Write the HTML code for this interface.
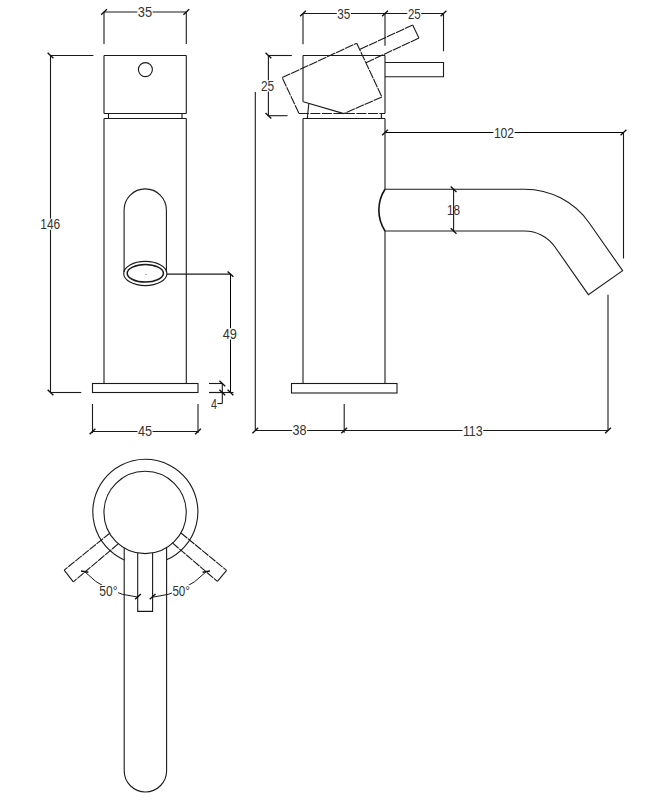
<!DOCTYPE html>
<html><head><meta charset="utf-8"><style>
html,body{margin:0;padding:0;background:#fff;}
svg{display:block;}
text{font-family:"Liberation Sans",sans-serif;font-size:14px;fill:#333;}
</style></head><body>
<svg width="655" height="800" viewBox="0 0 655 800">
<rect width="655" height="800" fill="#fff"/>
<line x1="104.00" y1="12.00" x2="104.00" y2="44.00" stroke="#1a1a1a" stroke-width="1.1"/>
<line x1="186.30" y1="12.00" x2="186.30" y2="44.00" stroke="#1a1a1a" stroke-width="1.1"/>
<line x1="104.00" y1="12.00" x2="186.30" y2="12.00" stroke="#1a1a1a" stroke-width="1.1"/>
<line x1="101.10" y1="14.70" x2="106.90" y2="9.30" stroke="#111" stroke-width="1.4"/>
<line x1="183.40" y1="14.70" x2="189.20" y2="9.30" stroke="#111" stroke-width="1.4"/>
<rect x="137.35" y="6.60" width="15.30" height="11.20" fill="#fff"/>
<text x="137.85" y="17.30" textLength="14.30" lengthAdjust="spacingAndGlyphs">35</text>
<line x1="104.00" y1="55.50" x2="186.30" y2="55.50" stroke="#1a1a1a" stroke-width="1.1"/>
<line x1="104.00" y1="55.50" x2="104.00" y2="113.50" stroke="#1a1a1a" stroke-width="1.1"/>
<line x1="186.30" y1="55.50" x2="186.30" y2="113.50" stroke="#1a1a1a" stroke-width="1.1"/>
<line x1="104.00" y1="113.50" x2="186.30" y2="113.50" stroke="#1a1a1a" stroke-width="1.1"/>
<circle cx="145.40" cy="69.60" r="7.00" fill="none" stroke="#1a1a1a" stroke-width="1.1"/>
<line x1="108.50" y1="113.50" x2="108.50" y2="118.50" stroke="#1a1a1a" stroke-width="1.1"/>
<line x1="182.00" y1="113.50" x2="182.00" y2="118.50" stroke="#1a1a1a" stroke-width="1.1"/>
<line x1="104.00" y1="118.50" x2="186.30" y2="118.50" stroke="#1a1a1a" stroke-width="1.1"/>
<line x1="104.00" y1="118.50" x2="104.00" y2="383.50" stroke="#1a1a1a" stroke-width="1.1"/>
<line x1="186.30" y1="118.50" x2="186.30" y2="383.50" stroke="#1a1a1a" stroke-width="1.1"/>
<path d="M124.1 272 V210 A21.15 21.15 0 0 1 166.4 210 V272" fill="none" stroke="#1a1a1a" stroke-width="1.1"/>
<ellipse cx="145.30" cy="273.50" rx="21.60" ry="12.10" fill="none" stroke="#1a1a1a" stroke-width="1.1"/>
<ellipse cx="145.30" cy="273.30" rx="18.10" ry="8.80" fill="none" stroke="#1a1a1a" stroke-width="1.5"/>
<circle cx="146" cy="274.4" r="0.6" fill="#666"/>
<line x1="166.90" y1="274.10" x2="231.00" y2="274.10" stroke="#1a1a1a" stroke-width="1.1"/>
<rect x="92.50" y="383.50" width="105.50" height="9.00" fill="none" stroke="#1a1a1a" stroke-width="1.1"/>
<line x1="230.50" y1="274.10" x2="230.50" y2="392.50" stroke="#000" stroke-width="1.0"/>
<line x1="227.60" y1="271.40" x2="233.40" y2="276.80" stroke="#111" stroke-width="1.4"/>
<line x1="227.60" y1="389.80" x2="233.40" y2="395.20" stroke="#111" stroke-width="1.4"/>
<line x1="209.00" y1="392.50" x2="233.50" y2="392.50" stroke="#1a1a1a" stroke-width="1.1"/>
<rect x="222.20" y="328.25" width="15.20" height="11.20" fill="#fff"/>
<text x="222.70" y="338.95" textLength="14.20" lengthAdjust="spacingAndGlyphs">49</text>
<line x1="209.00" y1="383.50" x2="222.50" y2="383.50" stroke="#1a1a1a" stroke-width="1.1"/>
<line x1="209.00" y1="392.50" x2="222.50" y2="392.50" stroke="#1a1a1a" stroke-width="1.1"/>
<line x1="222.30" y1="383.50" x2="222.30" y2="403.50" stroke="#1a1a1a" stroke-width="1.1"/>
<line x1="219.40" y1="380.80" x2="225.20" y2="386.20" stroke="#111" stroke-width="1.4"/>
<line x1="219.40" y1="389.80" x2="225.20" y2="395.20" stroke="#111" stroke-width="1.4"/>
<line x1="222.30" y1="403.50" x2="217.50" y2="403.50" stroke="#1a1a1a" stroke-width="1.1"/>
<text x="211.00" y="408.70" textLength="6.00" lengthAdjust="spacingAndGlyphs">4</text>
<line x1="92.50" y1="404.00" x2="92.50" y2="433.00" stroke="#1a1a1a" stroke-width="1.1"/>
<line x1="198.00" y1="404.00" x2="198.00" y2="433.00" stroke="#1a1a1a" stroke-width="1.1"/>
<line x1="92.50" y1="431.50" x2="198.00" y2="431.50" stroke="#1a1a1a" stroke-width="1.1"/>
<line x1="89.60" y1="434.20" x2="95.40" y2="428.80" stroke="#111" stroke-width="1.4"/>
<line x1="195.10" y1="434.20" x2="200.90" y2="428.80" stroke="#111" stroke-width="1.4"/>
<rect x="137.45" y="425.40" width="15.10" height="11.20" fill="#fff"/>
<text x="137.95" y="436.10" textLength="14.10" lengthAdjust="spacingAndGlyphs">45</text>
<line x1="50.50" y1="55.50" x2="50.50" y2="392.50" stroke="#1a1a1a" stroke-width="1.1"/>
<line x1="47.60" y1="52.80" x2="53.40" y2="58.20" stroke="#111" stroke-width="1.4"/>
<line x1="47.60" y1="389.80" x2="53.40" y2="395.20" stroke="#111" stroke-width="1.4"/>
<line x1="50.50" y1="55.50" x2="93.40" y2="55.50" stroke="#1a1a1a" stroke-width="1.1"/>
<line x1="50.50" y1="392.50" x2="81.20" y2="392.50" stroke="#1a1a1a" stroke-width="1.1"/>
<rect x="39.75" y="218.60" width="20.90" height="11.20" fill="#fff"/>
<text x="40.25" y="229.30" textLength="19.90" lengthAdjust="spacingAndGlyphs">146</text>
<line x1="303.00" y1="13.70" x2="303.00" y2="44.30" stroke="#1a1a1a" stroke-width="1.1"/>
<line x1="385.00" y1="13.70" x2="385.00" y2="45.80" stroke="#1a1a1a" stroke-width="1.1"/>
<line x1="443.50" y1="13.70" x2="443.50" y2="51.30" stroke="#1a1a1a" stroke-width="1.1"/>
<line x1="303.00" y1="13.50" x2="443.50" y2="13.50" stroke="#1a1a1a" stroke-width="1.1"/>
<line x1="300.10" y1="16.20" x2="305.90" y2="10.80" stroke="#111" stroke-width="1.4"/>
<line x1="382.10" y1="16.20" x2="387.90" y2="10.80" stroke="#111" stroke-width="1.4"/>
<line x1="440.60" y1="16.20" x2="446.40" y2="10.80" stroke="#111" stroke-width="1.4"/>
<rect x="336.80" y="8.60" width="14.00" height="11.20" fill="#fff"/>
<text x="337.30" y="19.30" textLength="13.00" lengthAdjust="spacingAndGlyphs">35</text>
<rect x="407.40" y="8.60" width="13.80" height="11.20" fill="#fff"/>
<text x="407.90" y="19.30" textLength="12.80" lengthAdjust="spacingAndGlyphs">25</text>
<line x1="268.40" y1="55.50" x2="268.40" y2="115.70" stroke="#1a1a1a" stroke-width="1.1"/>
<line x1="265.50" y1="52.80" x2="271.30" y2="58.20" stroke="#111" stroke-width="1.4"/>
<line x1="265.50" y1="113.00" x2="271.30" y2="118.40" stroke="#111" stroke-width="1.4"/>
<line x1="268.40" y1="55.50" x2="291.80" y2="55.50" stroke="#1a1a1a" stroke-width="1.1"/>
<line x1="268.40" y1="115.70" x2="287.50" y2="115.70" stroke="#1a1a1a" stroke-width="1.1"/>
<rect x="260.50" y="80.30" width="14.20" height="11.20" fill="#fff"/>
<text x="261.00" y="91.00" textLength="13.20" lengthAdjust="spacingAndGlyphs">25</text>
<line x1="303.00" y1="55.50" x2="385.00" y2="55.50" stroke="#1a1a1a" stroke-width="1.1"/>
<line x1="303.00" y1="55.50" x2="303.00" y2="101.70" stroke="#1a1a1a" stroke-width="1.1"/>
<line x1="385.00" y1="55.50" x2="385.00" y2="113.50" stroke="#1a1a1a" stroke-width="1.1"/>
<line x1="298.9" y1="113.5" x2="385.0" y2="113.5" stroke="#1a1a1a" stroke-width="1.1" stroke-dasharray="10 1.5"/>
<line x1="298.90" y1="113.30" x2="282.20" y2="77.60" stroke="#1a1a1a" stroke-width="1.1" stroke-dasharray="9 0.9"/>
<line x1="282.20" y1="77.60" x2="356.70" y2="43.20" stroke="#1a1a1a" stroke-width="1.1" stroke-dasharray="9 0.9"/>
<line x1="356.70" y1="43.20" x2="381.90" y2="96.90" stroke="#1a1a1a" stroke-width="1.1" stroke-dasharray="9 0.9"/>
<line x1="381.90" y1="96.90" x2="343.90" y2="113.60" stroke="#1a1a1a" stroke-width="1.1" stroke-dasharray="9 0.9"/>
<line x1="303.20" y1="101.70" x2="343.90" y2="113.60" stroke="#1a1a1a" stroke-width="1.1"/>
<line x1="308.80" y1="103.50" x2="307.30" y2="118.50" stroke="#1a1a1a" stroke-width="1.1"/>
<line x1="381.40" y1="113.50" x2="381.40" y2="118.50" stroke="#1a1a1a" stroke-width="1.1"/>
<line x1="360.00" y1="49.30" x2="412.70" y2="25.00" stroke="#1a1a1a" stroke-width="1.1" stroke-dasharray="9 0.9"/>
<line x1="412.70" y1="25.00" x2="418.90" y2="38.10" stroke="#1a1a1a" stroke-width="1.1"/>
<line x1="418.90" y1="38.10" x2="366.00" y2="62.70" stroke="#1a1a1a" stroke-width="1.1" stroke-dasharray="9 0.9"/>
<path d="M385.0 62.5 H443.5 V76.7 H385.0" fill="none" stroke="#1a1a1a" stroke-width="1.1"/>
<line x1="303.00" y1="118.50" x2="385.00" y2="118.50" stroke="#1a1a1a" stroke-width="1.1"/>
<line x1="303.00" y1="118.50" x2="303.00" y2="383.50" stroke="#1a1a1a" stroke-width="1.1"/>
<line x1="385.00" y1="118.50" x2="385.00" y2="189.20" stroke="#1a1a1a" stroke-width="1.1"/>
<line x1="385.00" y1="231.00" x2="385.00" y2="383.50" stroke="#1a1a1a" stroke-width="1.1"/>
<path d="M385.0 189.2 H524.6 A78.7 78.7 0 0 1 589.07 222.76 L622.62 270.68 L588.38 294.66 L554.83 246.74 A36.9 36.9 0 0 0 524.6 231 H385.0" fill="none" stroke="#1a1a1a" stroke-width="1.1"/>
<path d="M385.0 189.2 A38.6 38.6 0 0 0 385.0 231" fill="none" stroke="#111" stroke-width="1.6"/>
<line x1="385.00" y1="132.50" x2="623.50" y2="132.50" stroke="#000" stroke-width="1.0"/>
<line x1="382.10" y1="135.20" x2="387.90" y2="129.80" stroke="#111" stroke-width="1.4"/>
<line x1="620.60" y1="135.20" x2="626.40" y2="129.80" stroke="#111" stroke-width="1.4"/>
<line x1="623.50" y1="132.50" x2="623.50" y2="258.50" stroke="#1a1a1a" stroke-width="1.1"/>
<rect x="493.40" y="127.40" width="21.20" height="11.20" fill="#fff"/>
<text x="493.90" y="138.10" textLength="20.20" lengthAdjust="spacingAndGlyphs">102</text>
<line x1="453.60" y1="189.20" x2="453.60" y2="231.00" stroke="#1a1a1a" stroke-width="1.1"/>
<line x1="450.70" y1="186.50" x2="456.50" y2="191.90" stroke="#111" stroke-width="1.4"/>
<line x1="450.70" y1="228.30" x2="456.50" y2="233.70" stroke="#111" stroke-width="1.4"/>
<text x="447.05" y="215.45" textLength="13.10" lengthAdjust="spacingAndGlyphs">18</text>
<rect x="291.50" y="383.50" width="105.50" height="9.50" fill="none" stroke="#1a1a1a" stroke-width="1.1"/>
<line x1="255.30" y1="92.00" x2="255.30" y2="431.00" stroke="#1a1a1a" stroke-width="1.1"/>
<line x1="344.20" y1="404.00" x2="344.20" y2="432.80" stroke="#1a1a1a" stroke-width="1.1"/>
<line x1="608.00" y1="294.70" x2="608.00" y2="431.00" stroke="#1a1a1a" stroke-width="1.1"/>
<line x1="255.30" y1="430.50" x2="608.00" y2="430.50" stroke="#1a1a1a" stroke-width="1.1"/>
<line x1="252.40" y1="433.20" x2="258.20" y2="427.80" stroke="#111" stroke-width="1.4"/>
<line x1="341.30" y1="433.20" x2="347.10" y2="427.80" stroke="#111" stroke-width="1.4"/>
<line x1="605.10" y1="433.20" x2="610.90" y2="427.80" stroke="#111" stroke-width="1.4"/>
<rect x="292.10" y="424.00" width="15.00" height="11.20" fill="#fff"/>
<text x="292.60" y="434.70" textLength="14.00" lengthAdjust="spacingAndGlyphs">38</text>
<rect x="462.40" y="424.80" width="20.80" height="11.20" fill="#fff"/>
<text x="462.90" y="435.50" textLength="19.80" lengthAdjust="spacingAndGlyphs">113</text>
<path d="M124.20 559.91 A52.55 52.55 0 1 1 166.60 559.86" fill="none" stroke="#1a1a1a" stroke-width="1.1"/>
<circle cx="145.10" cy="512.45" r="41.15" fill="none" stroke="#1a1a1a" stroke-width="1.1"/>
<path d="M124.2 547.90 V770.75 A21.2 21.2 0 0 0 166.6 770.75 V547.54" fill="none" stroke="#1a1a1a" stroke-width="1.1"/>
<path d="M137.7 552.93 V611.4 H152.6 V552.91" fill="none" stroke="#1a1a1a" stroke-width="1.1"/>
<line x1="110.00" y1="533.00" x2="64.20" y2="570.10" stroke="#1a1a1a" stroke-width="1.1" stroke-dasharray="8.2 0.9"/>
<line x1="64.20" y1="570.10" x2="73.30" y2="581.80" stroke="#1a1a1a" stroke-width="1.1"/>
<line x1="118.40" y1="543.70" x2="73.30" y2="581.80" stroke="#1a1a1a" stroke-width="1.1" stroke-dasharray="8.2 0.9"/>
<line x1="181.00" y1="533.00" x2="226.60" y2="570.40" stroke="#1a1a1a" stroke-width="1.1" stroke-dasharray="8.2 0.9"/>
<line x1="226.60" y1="570.40" x2="217.40" y2="581.40" stroke="#1a1a1a" stroke-width="1.1"/>
<line x1="172.40" y1="542.90" x2="217.40" y2="581.40" stroke="#1a1a1a" stroke-width="1.1" stroke-dasharray="8.2 0.9"/>
<path d="M84 571.1 A86 86 0 0 0 138.2 597.1" fill="none" stroke="#1a1a1a" stroke-width="1.0"/>
<path d="M153 597.1 A86 86 0 0 0 206 571.9" fill="none" stroke="#1a1a1a" stroke-width="1.0"/>
<g>
<rect x="98.85" y="585.00" width="19.30" height="11.20" fill="#fff"/>
<text x="99.35" y="595.70" textLength="18.30" lengthAdjust="spacingAndGlyphs">50°</text>
<rect x="171.90" y="585.00" width="18.60" height="11.20" fill="#fff"/>
<text x="172.40" y="595.70" textLength="17.60" lengthAdjust="spacingAndGlyphs">50°</text>
</g>
<line x1="81.00" y1="571.00" x2="88.40" y2="572.20" stroke="#111" stroke-width="1.4"/>
<line x1="202.60" y1="572.20" x2="210.00" y2="571.00" stroke="#111" stroke-width="1.4"/>
<line x1="135.10" y1="599.30" x2="140.90" y2="593.90" stroke="#111" stroke-width="1.4"/>
<line x1="149.70" y1="599.30" x2="155.50" y2="593.90" stroke="#111" stroke-width="1.4"/>
</svg>
</body></html>
